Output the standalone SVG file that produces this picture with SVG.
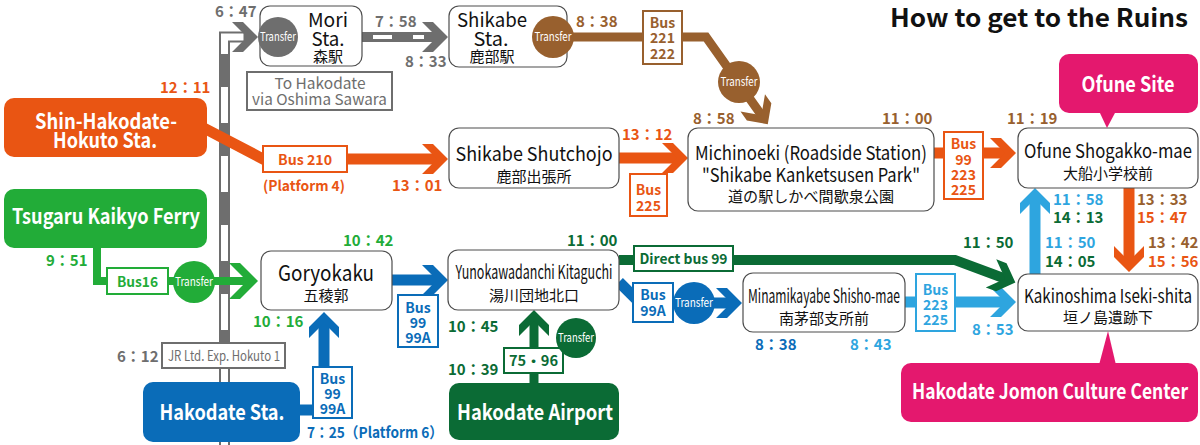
<svg xmlns="http://www.w3.org/2000/svg" width="1200" height="445" viewBox="0 0 1200 445">
<style>
text{font-family:"Noto Sans CJK JP","Noto Sans",sans-serif}
.node{fill:#fff;stroke:#4d4d4d;stroke-width:1.2}
.nm{font-size:19px;fill:#111;text-anchor:middle}
.jp{font-size:15px}
.wt{font-size:21px;font-weight:bold;fill:#fff;text-anchor:middle}
.t{font-size:15px;font-weight:bold}
.tr{font-size:12px;fill:#fff;text-anchor:middle}
.bus{font-size:14px;font-weight:bold;text-anchor:middle}
.lbl{fill:#fff;stroke-width:2}
.ln{fill:none}
.gy{fill:#6e6e6e}.br{fill:#98602e}.or{fill:#e95513}.gr{fill:#22ac38}.dg{fill:#0b6b35}.bl{fill:#0a6cb8}.lb{fill:#2ea5df}.pk{fill:#e4186e}
.sgy{stroke:#6e6e6e}.sbr{stroke:#98602e}.sor{stroke:#e95513}.sgr{stroke:#22ac38}.sdg{stroke:#0b6b35}.sbl{stroke:#0a6cb8}.slb{stroke:#2ea5df}
</style>
<defs>
<marker id="a-gy" viewBox="-28 -16 30 32" markerWidth="30" markerHeight="32" refX="-10" refY="0" orient="auto" markerUnits="userSpaceOnUse"><path d="M0,0L-15,-15H-26L-11,0L-26,15H-15Z" fill="#6e6e6e"/></marker>
<marker id="a-br" viewBox="-28 -16 30 32" markerWidth="30" markerHeight="32" refX="-10" refY="0" orient="auto" markerUnits="userSpaceOnUse"><path d="M0,0L-15,-15H-26L-11,0L-26,15H-15Z" fill="#98602e"/></marker>
<marker id="a-or" viewBox="-28 -16 30 32" markerWidth="30" markerHeight="32" refX="-10" refY="0" orient="auto" markerUnits="userSpaceOnUse"><path d="M0,0L-15,-15H-26L-11,0L-26,15H-15Z" fill="#e95513"/></marker>
<marker id="a-gr" viewBox="-31 -19 33 38" markerWidth="33" markerHeight="38" refX="-10" refY="0" orient="auto" markerUnits="userSpaceOnUse"><path d="M0,0L-18,-18H-29L-11,0L-29,18H-18Z" fill="#22ac38"/></marker>
<marker id="a-dg" viewBox="-28 -16 30 32" markerWidth="30" markerHeight="32" refX="-10" refY="0" orient="auto" markerUnits="userSpaceOnUse"><path d="M0,0L-15,-15H-26L-11,0L-26,15H-15Z" fill="#0b6b35"/></marker>
<marker id="a-bl" viewBox="-28 -16 30 32" markerWidth="30" markerHeight="32" refX="-10" refY="0" orient="auto" markerUnits="userSpaceOnUse"><path d="M0,0L-15,-15H-26L-11,0L-26,15H-15Z" fill="#0a6cb8"/></marker>
<marker id="a-lb" viewBox="-28 -16 30 32" markerWidth="30" markerHeight="32" refX="-10" refY="0" orient="auto" markerUnits="userSpaceOnUse"><path d="M0,0L-15,-15H-26L-11,0L-26,15H-15Z" fill="#2ea5df"/></marker>
</defs>

<g id="connectors">
  <path class="ln sgy" d="M224.5,445V37H248" stroke-width="11"/>
  <path class="ln" d="M224.5,445V37H248" stroke="#fff" stroke-width="7"/>
  <path class="ln sgy" d="M224.5,445V37H248" stroke-width="7" stroke-dasharray="33 36" stroke-dashoffset="56" marker-end="url(#a-gy)"/>
  <path class="ln sgy" d="M362,37H438" stroke-width="10" marker-end="url(#a-gy)"/>
  <path class="ln" d="M373,37H392M413,37H424" stroke="#fff" stroke-width="4"/>
  <path class="ln sbr" d="M560,37H706L762,116" stroke-width="9" marker-end="url(#a-br)"/>
  <path class="ln sor" d="M200,126L263,159H438" stroke-width="11" marker-end="url(#a-or)"/>
  <path class="ln sor" d="M619,158H678" stroke-width="11" marker-end="url(#a-or)"/>
  <path class="ln sor" d="M934,153H1006" stroke-width="11" marker-end="url(#a-or)"/>
  <path class="ln sor" d="M1129,188V262" stroke-width="11" marker-end="url(#a-or)"/>
  <path class="ln slb" d="M1035,274V198" stroke-width="11" marker-end="url(#a-lb)"/>
  <path class="ln slb" d="M905,302H1006" stroke-width="11" marker-end="url(#a-lb)"/>
  <path class="ln sgr" d="M97,246V281H248" stroke-width="8" marker-end="url(#a-gr)"/>
  <path class="ln sbl" d="M392,280H438" stroke-width="11" marker-end="url(#a-bl)"/>
  <path class="ln sbl" d="M298,410H324V322" stroke-width="11" marker-end="url(#a-bl)"/>
  <path class="ln sbl" d="M619,282L640,303H732" stroke-width="11" marker-end="url(#a-bl)"/>
  <path class="ln sdg" d="M534,383V320" stroke-width="9" marker-end="url(#a-dg)"/>
  <path class="ln sdg" d="M619,260H955L1006,279" stroke-width="10" marker-end="url(#a-dg)"/>

  <rect class="lbl sgy" x="162" y="343" width="123" height="25"/>
  <text x="224" y="361" font-size="14" text-anchor="middle" class="gy" textLength="112" lengthAdjust="spacingAndGlyphs">JR Ltd. Exp. Hokuto 1</text>

  <rect class="lbl sbr" x="643" y="11" width="39" height="53"/>
  <text class="bus br"><tspan x="662.5" y="28">Bus</tspan><tspan x="662.5" y="43">221</tspan><tspan x="662.5" y="59">222</tspan></text>

  <rect class="lbl sor" x="263" y="146" width="84" height="26"/>
  <text class="bus or" x="305" y="165" font-size="16" textLength="54" lengthAdjust="spacingAndGlyphs">Bus 210</text>
  <text class="bus or" x="304" y="191" font-size="15" textLength="82" lengthAdjust="spacingAndGlyphs">(Platform 4)</text>

  <rect class="lbl sor" x="630" y="174" width="37" height="42"/>
  <text class="bus or"><tspan x="648.5" y="195">Bus</tspan><tspan x="648.5" y="211">225</tspan></text>

  <rect class="lbl sor" x="944" y="132" width="39" height="67"/>
  <text class="bus or"><tspan x="963.5" y="149">Bus</tspan><tspan x="963.5" y="165">99</tspan><tspan x="963.5" y="180">223</tspan><tspan x="963.5" y="195">225</tspan></text>

  <rect class="lbl sgr" x="107" y="268" width="61" height="26"/>
  <text class="bus gr" x="137.5" y="287" font-size="16" textLength="41" lengthAdjust="spacingAndGlyphs">Bus16</text>

  <rect class="lbl sbl" x="398" y="295" width="40" height="52"/>
  <text class="bus bl"><tspan x="418" y="313">Bus</tspan><tspan x="418" y="328">99</tspan><tspan x="418" y="343">99A</tspan></text>

  <rect class="lbl sbl" x="313" y="367" width="39" height="51"/>
  <text class="bus bl"><tspan x="332.5" y="384">Bus</tspan><tspan x="332.5" y="399">99</tspan><tspan x="332.5" y="414">99A</tspan></text>

  <rect class="lbl sbl" x="633" y="283" width="40" height="39"/>
  <text class="bus bl"><tspan x="653" y="300">Bus</tspan><tspan x="653" y="316">99A</tspan></text>

  <rect class="lbl sdg" x="634" y="246" width="99" height="25"/>
  <text class="bus dg" x="683.5" y="264" font-size="15" textLength="88" lengthAdjust="spacingAndGlyphs">Direct bus 99</text>

  <rect class="lbl sdg" x="504" y="348" width="59" height="25"/>
  <text class="bus dg" x="533.5" y="366" font-size="15" textLength="49" lengthAdjust="spacingAndGlyphs">75・96</text>

  <rect class="lbl slb" x="916" y="274" width="39" height="57"/>
  <text class="bus lb"><tspan x="935.5" y="295">Bus</tspan><tspan x="935.5" y="310">223</tspan><tspan x="935.5" y="325">225</tspan></text>

  <circle class="br" cx="739" cy="82" r="21"/><text class="tr" x="739" y="86" textLength="37" lengthAdjust="spacingAndGlyphs">Transfer</text>
  <circle class="gr" cx="194" cy="282" r="21"/><text class="tr" x="194" y="286" textLength="38" lengthAdjust="spacingAndGlyphs">Transfer</text>
  <circle class="dg" cx="576" cy="338" r="20"/><text class="tr" x="576" y="342" textLength="36" lengthAdjust="spacingAndGlyphs">Transfer</text>
  <circle class="bl" cx="694" cy="303" r="21"/><text class="tr" x="694" y="307" textLength="38" lengthAdjust="spacingAndGlyphs">Transfer</text>
</g>

<g id="note-oshima">
  <rect class="lbl sgy" x="247" y="72" width="145" height="38"/>
  <text font-size="15" text-anchor="middle" class="gy"><tspan x="320" y="89" textLength="91" lengthAdjust="spacingAndGlyphs">To Hakodate</tspan><tspan x="319.5" y="105" textLength="135" lengthAdjust="spacingAndGlyphs">via Oshima Sawara</tspan></text>
</g>

<g id="n-mori">
  <rect class="node" x="260" y="6" width="102" height="60" rx="10"/>
  <circle class="gy" cx="278" cy="37" r="20"/><text class="tr" x="278" y="41" textLength="36" lengthAdjust="spacingAndGlyphs">Transfer</text>
  <text class="nm" font-size="20"><tspan x="328" y="27" textLength="40" lengthAdjust="spacingAndGlyphs">Mori</tspan><tspan x="328" y="46" textLength="33" lengthAdjust="spacingAndGlyphs">Sta.</tspan><tspan class="jp" x="328" y="62" font-size="14">森駅</tspan></text>
</g>
<g id="n-shikabe-sta">
  <rect class="node" x="449" y="6" width="118" height="61" rx="10"/>
  <circle class="br" cx="553" cy="37" r="21"/><text class="tr" x="553" y="41" textLength="37" lengthAdjust="spacingAndGlyphs">Transfer</text>
  <text class="nm" font-size="20"><tspan x="492" y="27" textLength="70" lengthAdjust="spacingAndGlyphs">Shikabe</tspan><tspan x="491" y="46" textLength="35" lengthAdjust="spacingAndGlyphs">Sta.</tspan><tspan class="jp" x="492" y="62" font-size="14">鹿部駅</tspan></text>
</g>
<g id="n-shin-hakodate">
  <rect class="or" x="4" y="98" width="203" height="59" rx="10"/>
  <text class="wt"><tspan x="106" y="129" textLength="142" lengthAdjust="spacingAndGlyphs">Shin-Hakodate-</tspan><tspan x="105" y="148" textLength="104" lengthAdjust="spacingAndGlyphs">Hokuto Sta.</tspan></text>
</g>
<g id="n-shutchojo">
  <rect class="node" x="449" y="128" width="170" height="60" rx="10"/>
  <text class="nm"><tspan x="534" y="161" textLength="157" lengthAdjust="spacingAndGlyphs">Shikabe Shutchojo</tspan><tspan class="jp" x="534" y="182">鹿部出張所</tspan></text>
</g>
<g id="n-michinoeki">
  <rect class="node" x="688" y="128" width="246" height="83" rx="10"/>
  <text class="nm"><tspan x="811" y="160" textLength="232" lengthAdjust="spacingAndGlyphs">Michinoeki (Roadside Station)</tspan><tspan x="811" y="182" textLength="218" lengthAdjust="spacingAndGlyphs">"Shikabe Kanketsusen Park"</tspan><tspan class="jp" x="811" y="202" textLength="166" lengthAdjust="spacingAndGlyphs">道の駅しかべ間歇泉公園</tspan></text>
</g>
<g id="n-ofune">
  <rect class="node" x="1018" y="128" width="180" height="60" rx="10"/>
  <text class="nm"><tspan x="1108" y="158" textLength="168" lengthAdjust="spacingAndGlyphs">Ofune Shogakko-mae</tspan><tspan class="jp" x="1108" y="179">大船小学校前</tspan></text>
</g>
<g id="n-ofune-site">
  <rect class="pk" x="1059" y="54" width="139" height="59" rx="10"/>
  <polygon class="pk" points="1099,111 1116,111 1107,128"/>
  <text class="wt" x="1128" y="92" textLength="93" lengthAdjust="spacingAndGlyphs">Ofune Site</text>
</g>
<g id="n-tsugaru">
  <rect class="gr" x="4" y="189" width="203" height="59" rx="10"/>
  <text class="wt" x="106" y="224" textLength="188" lengthAdjust="spacingAndGlyphs">Tsugaru Kaikyo Ferry</text>
</g>
<g id="n-goryokaku">
  <rect class="node" x="261" y="251" width="131" height="59" rx="10"/>
  <text class="nm"><tspan x="326" y="281" font-size="22" textLength="96" lengthAdjust="spacingAndGlyphs">Goryokaku</tspan><tspan class="jp" x="326" y="301">五稜郭</tspan></text>
</g>
<g id="n-yunokawa">
  <rect class="node" x="448" y="250" width="171" height="60" rx="10"/>
  <text class="nm"><tspan x="534" y="279" textLength="157" lengthAdjust="spacingAndGlyphs">Yunokawadanchi Kitaguchi</tspan><tspan class="jp" x="534" y="301">湯川団地北口</tspan></text>
</g>
<g id="n-minamikayabe">
  <rect class="node" x="743" y="273" width="162" height="59" rx="10"/>
  <text class="nm"><tspan x="824" y="303" textLength="152" lengthAdjust="spacingAndGlyphs">Minamikayabe Shisho-mae</tspan><tspan class="jp" x="824" y="324">南茅部支所前</tspan></text>
</g>
<g id="n-kakinoshima">
  <rect class="node" x="1018" y="274" width="180" height="57" rx="10"/>
  <text class="nm"><tspan x="1108" y="303" textLength="168" lengthAdjust="spacingAndGlyphs">Kakinoshima Iseki-shita</tspan><tspan class="jp" x="1108" y="323">垣ノ島遺跡下</tspan></text>
</g>
<g id="n-jomon">
  <rect class="pk" x="901" y="363" width="297" height="59" rx="10"/>
  <polygon class="pk" points="1099,365 1116,365 1108,331"/>
  <text class="wt" x="1050" y="399" font-size="20" textLength="276" lengthAdjust="spacingAndGlyphs">Hakodate Jomon Culture Center</text>
</g>
<g id="n-hakodate-sta">
  <rect class="bl" x="143" y="382" width="157" height="60" rx="10"/>
  <text class="wt" x="222" y="420" textLength="125" lengthAdjust="spacingAndGlyphs">Hakodate Sta.</text>
</g>
<g id="n-airport">
  <rect class="dg" x="449" y="383" width="170" height="57" rx="10"/>
  <text class="wt" x="535" y="420" textLength="156" lengthAdjust="spacingAndGlyphs">Hakodate Airport</text>
</g>

<g id="times">
  <text class="t gy" x="215" y="17">6：47</text>
  <text class="t gy" x="375" y="27">7：58</text>
  <text class="t gy" x="405" y="67">8：33</text>
  <text class="t gy" x="117" y="362">6：12</text>
  <text class="t br" x="576" y="27">8：38</text>
  <text class="t br" x="693" y="124">8：58</text>
  <text class="t br" x="882" y="124">11：00</text>
  <text class="t br" x="1007" y="124">11：19</text>
  <text class="t or" x="160" y="93">12：11</text>
  <text class="t or" x="392" y="191">13：01</text>
  <text class="t or" x="622" y="140">13：12</text>
  <text class="t gr" x="46" y="266">9：51</text>
  <text class="t gr" x="343" y="246">10：42</text>
  <text class="t gr" x="253" y="327">10：16</text>
  <text class="t bl" x="307" y="438" textLength="136" lengthAdjust="spacingAndGlyphs">7：25（Platform 6）</text>
  <text class="t dg" x="567" y="246">11：00</text>
  <text class="t dg" x="448" y="332">10：45</text>
  <text class="t dg" x="448" y="375">10：39</text>
  <text class="t dg" x="963" y="248">11：50</text>
  <text class="t bl" x="755" y="350">8：38</text>
  <text class="t lb" x="850" y="350">8：43</text>
  <text class="t lb" x="972" y="335">8：53</text>
  <text class="t"><tspan class="lb" x="1053" y="205">11：58</tspan><tspan class="dg" x="1053" y="223">14：13</tspan></text>
  <text class="t"><tspan class="lb" x="1045" y="248">11：50</tspan><tspan class="dg" x="1045" y="267">14：05</tspan></text>
  <text class="t"><tspan class="br" x="1137" y="205">13：33</tspan><tspan class="or" x="1137" y="223">15：47</tspan></text>
  <text class="t"><tspan class="br" x="1148" y="248">13：42</tspan><tspan class="or" x="1148" y="267">15：56</tspan></text>
</g>

<text id="title" x="1188" y="27" font-size="25" font-weight="bold" fill="#111" text-anchor="end" textLength="298" lengthAdjust="spacingAndGlyphs">How to get to the Ruins</text>
</svg>
